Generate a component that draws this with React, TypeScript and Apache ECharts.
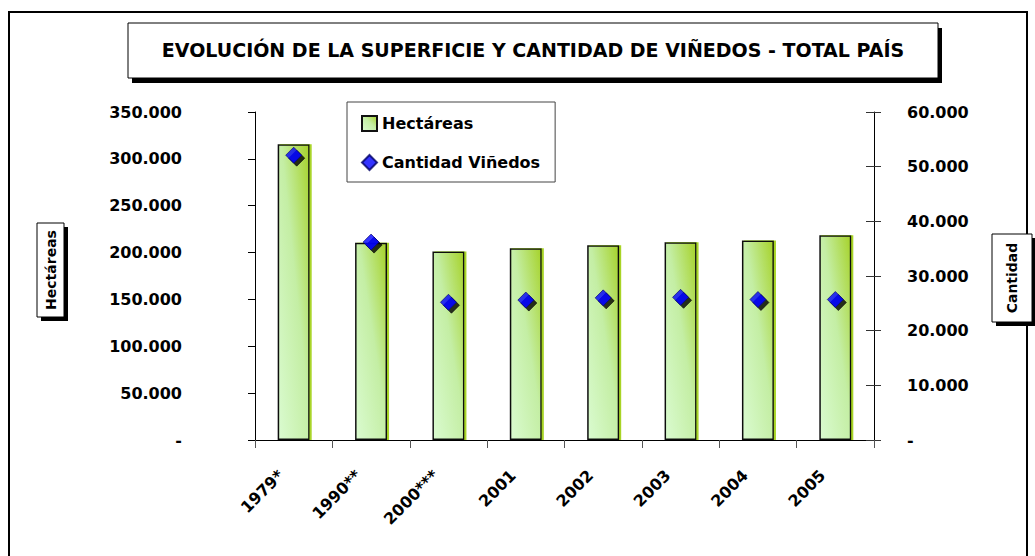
import React, { useEffect, useRef } from "react";
import * as echarts from "echarts";

const categories = ["1979*", "1990**", "2000***", "2001", "2002", "2003", "2004", "2005"];
const hectareas = [315500, 210400, 201100, 204700, 207800, 211000, 212800, 218600];
const cantidad = [52100, 36200, 25200, 25600, 26000, 26100, 25700, 25700];
const leftTicks = { min: 0, max: 350000, interval: 50000 };
const rightTicks = { min: 0, max: 60000, interval: 10000 };
const titleText = "EVOLUCIÓN DE LA SUPERFICIE Y CANTIDAD DE VIÑEDOS - TOTAL PAÍS";
const seriesNames = ["Hectáreas", "Cantidad Viñedos"];
const leftAxisName = "Hectáreas";
const rightAxisName = "Cantidad";

const FONT = '"Comic Sans MS", "DejaVu Sans", sans-serif';

function fmt(v: number): string {
  if (v === 0) return "-";
  return String(v).replace(/\B(?=(\d{3})+(?!\d))/g, ".");
}

function boxed(x: number, y: number, w: number, h: number, text: string, size: number, rotated: boolean) {
  return {
    type: "group",
    children: [
      { type: "rect", shape: { x: x + 4, y: y + 4, width: w, height: h }, style: { fill: "#000" } },
      { type: "rect", shape: { x, y, width: w, height: h }, style: { fill: "#fff", stroke: "#000", lineWidth: 1 } },
      {
        type: "text",
        x: x + w / 2,
        y: y + h / 2,
        rotation: rotated ? Math.PI / 2 : 0,
        style: {
          text,
          fill: "#000",
          font: `bold ${size}px ${FONT}`,
          align: "center",
          verticalAlign: "middle",
        },
      },
    ],
  };
}

export default function App() {
  const ref = useRef<HTMLDivElement>(null);
  useEffect(() => {
    if (!ref.current) return;
    const chart = echarts.init(ref.current, undefined, { renderer: "svg" });
    const barGrad = new echarts.graphic.LinearGradient(0, 1, 1, 0, [
      { offset: 0, color: "#dafbd0" },
      { offset: 0.55, color: "#c4eea4" },
      { offset: 1, color: "#a6d22a" },
    ]);
    chart.setOption({
      animation: false,
      backgroundColor: "#fff",
      textStyle: { fontFamily: FONT },
      grid: { left: 255, right: 161, top: 112, bottom: 116, containLabel: false },
      legend: {
        orient: "vertical",
        left: 347,
        top: 102,
        padding: [13, 15, 11, 14],
        itemGap: 22,
        itemWidth: 15,
        itemHeight: 15,
        backgroundColor: "#fff",
        borderColor: "#444",
        borderWidth: 1,
        textStyle: { fontFamily: FONT, fontWeight: "bold", fontSize: 16, color: "#000" },
        data: [
          { name: seriesNames[0], icon: "rect" },
          { name: seriesNames[1], icon: "diamond" },
        ],
      },
      xAxis: {
        type: "category",
        data: categories,
        boundaryGap: true,
        axisLine: { lineStyle: { color: "#000", width: 1 } },
        axisTick: { show: true, length: 8, lineStyle: { color: "#555" } },
        axisLabel: {
          rotate: 45,
          margin: 20,
          padding: [0, 18, 0, 0],
          color: "#000",
          fontFamily: FONT,
          fontWeight: "bold",
          fontSize: 16,
          interval: 0,
        },
        splitLine: { show: false },
      },
      yAxis: [
        {
          type: "value",
          position: "left",
          ...leftTicks,
          axisLine: { show: true, lineStyle: { color: "#000" } },
          axisTick: { show: true, length: 7, lineStyle: { color: "#000" } },
          axisLabel: {
            formatter: fmt,
            margin: 73,
            color: "#000",
            fontFamily: FONT,
            fontWeight: "bold",
            fontSize: 16,
          },
          splitLine: { show: false },
        },
        {
          type: "value",
          position: "right",
          ...rightTicks,
          axisLine: { show: true, lineStyle: { color: "#000" } },
          axisTick: { show: true, length: 7, lineStyle: { color: "#333" } },
          axisLabel: {
            formatter: fmt,
            margin: 33,
            color: "#000",
            fontFamily: FONT,
            fontWeight: "bold",
            fontSize: 16,
          },
          splitLine: { show: false },
        },
        {
          type: "value",
          position: "right",
          ...rightTicks,
          axisLine: { show: false },
          axisTick: { show: true, inside: true, length: 8, lineStyle: { color: "#333" } },
          axisLabel: { show: false },
          splitLine: { show: false },
        },
      ],
      series: [
        {
          name: seriesNames[0],
          type: "bar",
          yAxisIndex: 0,
          data: hectareas,
          barWidth: 32,
          itemStyle: {
            color: barGrad,
            borderColor: "#111",
            borderWidth: 1.5,
            shadowColor: "rgba(153,204,0,0.85)",
            shadowOffsetX: 2,
            shadowOffsetY: 0,
            shadowBlur: 0,
          },
        },
        {
          name: seriesNames[1],
          type: "scatter",
          yAxisIndex: 1,
          data: cantidad,
          symbol: "diamond",
          symbolSize: [16, 16],
          z: 5,
          itemStyle: {
            color: "#0000ff",
            borderColor: "#000066",
            borderWidth: 0.8,
            shadowColor: "#000",
            shadowOffsetX: 3,
            shadowOffsetY: 3,
            shadowBlur: 0,
          },
        },
      ],
      graphic: [
        {
          type: "rect",
          shape: { x: 9, y: 12, width: 1018, height: 570 },
          style: { fill: "none", stroke: "#000", lineWidth: 2 },
          silent: true,
        },
        {
          type: "group",
          children: [
            { type: "rect", shape: { x: 132, y: 28, width: 810, height: 55 }, style: { fill: "#000" } },
            {
              type: "rect",
              shape: { x: 128, y: 23, width: 810, height: 55 },
              style: { fill: "#fff", stroke: "#000", lineWidth: 1 },
            },
            {
              type: "text",
              x: 533,
              y: 50,
              style: {
                text: titleText,
                fill: "#000",
                font: `bold 19px ${FONT}`,
                align: "center",
                verticalAlign: "middle",
              },
            },
          ],
        },
        boxed(37, 223, 27, 94, leftAxisName, 14, true),
        boxed(992, 234, 40, 88, rightAxisName, 14, true),
      ],
    });
    return () => chart.dispose();
  }, []);
  return (
    <div
      ref={ref}
      style={{ position: "fixed", left: 0, top: 0, width: 1035, height: 556 }}
    />
  );
}
